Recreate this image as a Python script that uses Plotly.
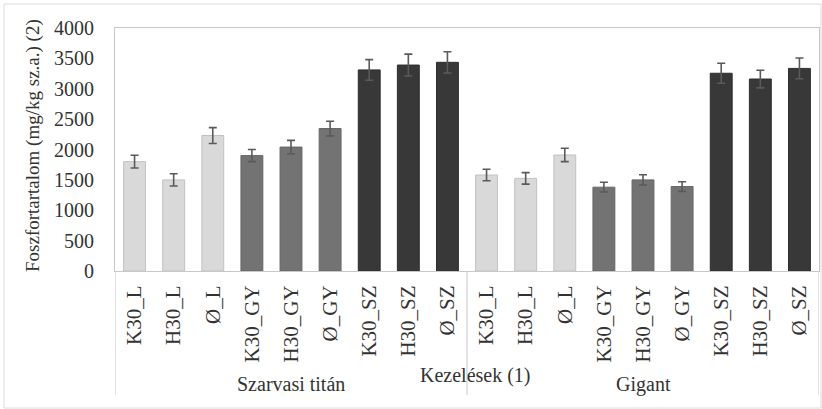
import plotly.graph_objects as go

categories = ["K30_L", "H30_L", "Ø_L", "K30_GY", "H30_GY", "Ø_GY", "K30_SZ", "H30_SZ", "Ø_SZ",
              "K30_L", "H30_L", "Ø_L", "K30_GY", "H30_GY", "Ø_GY", "K30_SZ", "H30_SZ", "Ø_SZ"]
values = [1800, 1500, 2230, 1900, 2040, 2345, 3310, 3390, 3435,
          1580, 1525, 1910, 1380, 1500, 1390, 3255, 3160, 3335]
errors = [105, 100, 130, 100, 110, 120, 170, 180, 175,
          95, 95, 110, 80, 85, 80, 165, 145, 170]
groups = ["Szarvasi titán", "Gigant"]
y_ticks = [0, 500, 1000, 1500, 2000, 2500, 3000, 3500, 4000]

palette = {"L": "#d9d9d9", "GY": "#737373", "SZ": "#383838"}
edge = {"L": "#c2c2c2", "GY": "#666666", "SZ": "#2e2e2e"}
suffix = [c.split("_")[1] for c in categories]
xs = list(range(len(categories)))

FONT = "'Liberation Serif', Tinos, 'Times New Roman', 'DejaVu Serif', serif"

fig = go.Figure()
fig.add_trace(go.Bar(
    x=xs, y=values,
    marker=dict(color=[palette[s] for s in suffix],
                line=dict(color=[edge[s] for s in suffix], width=1)),
    error_y=dict(type="data", array=errors, visible=True,
                 color="#5a5a5a", thickness=1.6, width=4),
    width=0.56,
    showlegend=False,
))

fig.update_layout(
    width=822, height=409,
    margin=dict(l=115, r=3, t=28, b=138),
    paper_bgcolor="white", plot_bgcolor="white",
    font=dict(family=FONT, color="#333333", size=17),
    xaxis=dict(
        tickmode="array", tickvals=xs, ticktext=categories,
        tickangle=-90, range=[-0.5, len(categories) - 0.5],
        showgrid=False, zeroline=False,
        showline=True, linecolor="#c8c8c8", linewidth=1, mirror=True,
        ticks="", tickfont=dict(size=21, family=FONT, color="#333333"),
        ticklabelstandoff=5,
    ),
    yaxis=dict(
        range=[0, 4000], tickvals=y_ticks,
        showgrid=False, zeroline=False,
        showline=True, linecolor="#c8c8c8", linewidth=1, mirror=True,
        ticks="", tickfont=dict(size=20, family=FONT, color="#333333"),
        ticklabelstandoff=16,
    ),
)

# group dividers below the axis
ybot = -(395 - 271) / 243
for xv in [-0.5, 8.5, len(categories) - 0.5]:
    fig.add_shape(type="line", xref="x", yref="paper", x0=xv, x1=xv, y0=0, y1=ybot,
                  line=dict(color="#c8c8c8", width=1))

# group labels
for i, g in enumerate(groups):
    fig.add_annotation(x=4 + 9 * i, y=(271 - 384) / 243, xref="x", yref="paper",
                       text=g, showarrow=False, font=dict(size=20, family=FONT, color="#333333"),
                       xanchor="center", yanchor="middle")

# axis titles
fig.add_annotation(x=(475 - 115) / 704, y=(271 - 375) / 243, xref="paper", yref="paper",
                   text="Kezelések (1)", showarrow=False,
                   font=dict(size=20, family=FONT, color="#333333"),
                   xanchor="center", yanchor="middle")
fig.add_annotation(x=(33 - 115) / 704, y=(271 - 146) / 243, xref="paper", yref="paper",
                   text="Foszfortartalom (mg/kg sz.a.) (2)", showarrow=False, textangle=-90,
                   font=dict(size=19, family=FONT, color="#333333"),
                   xanchor="center", yanchor="middle")

# outer frame
fig.add_shape(type="rect", xref="paper", yref="paper",
              x0=(4 - 115) / 704, x1=(821 - 115) / 704,
              y0=(271 - 408) / 243, y1=(271 - 4) / 243,
              line=dict(color="#dcdcdc", width=1), fillcolor="rgba(0,0,0,0)", layer="below")

fig.write_html("out.html")
